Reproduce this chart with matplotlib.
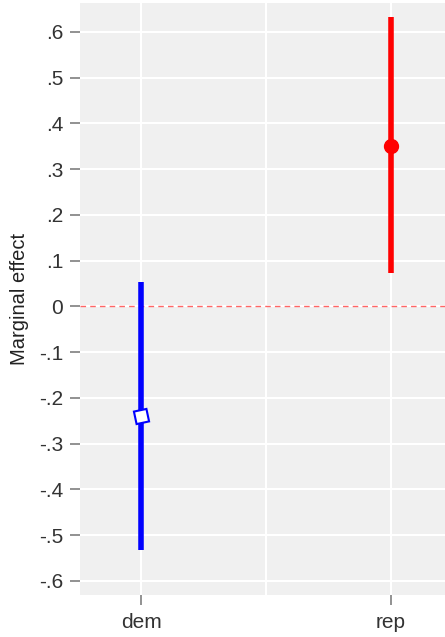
import numpy as np
import matplotlib.pyplot as plt

plt.rcParams['font.family'] = ['Liberation Sans', 'DejaVu Sans']

# data
groups = ['dem', 'rep']
estimate = [-0.239, 0.351]
ci_low = [-0.532, 0.073]
ci_high = [0.053, 0.633]
colors = ['#0000FF', '#FF0000']
yticks = [0.6, 0.5, 0.4, 0.3, 0.2, 0.1, 0.0, -0.1, -0.2, -0.3, -0.4, -0.5, -0.6]


def fmt(v):
    if abs(v) < 1e-9:
        return '0'
    s = f'{v:.1f}'.replace('0.', '.')
    return s


fig = plt.figure(figsize=(4.45, 6.37), dpi=100)
ax = fig.add_axes([80 / 445, 1 - 595 / 637, 1 - 80 / 445, 592 / 637])
ax.set_facecolor('#F0F0F0')
for sp in ax.spines.values():
    sp.set_visible(False)

x = np.arange(1, len(groups) + 1)
ax.set_xlim(0.756, 2.216)
ax.set_ylim(-0.631, 0.663)

# grid
for yt in yticks:
    ax.axhline(yt, color='white', lw=1.5, zorder=0)
for xv in [1, 1.5, 2]:
    ax.axvline(xv, color='white', lw=1.5, zorder=0)

ax.axhline(0, color='#FF6666', lw=1, ls=(0, (4, 3)), zorder=1)

for i in range(len(groups)):
    ax.vlines(x[i], ci_low[i], ci_high[i], color=colors[i], lw=4, zorder=2)

ax.plot(x[0], estimate[0], marker=(4, 0, 57), ms=13, mfc='white', mec=colors[0], mew=1.5, zorder=3)
ax.plot(x[1], estimate[1], marker='o', ms=10, mfc=colors[1], mec=colors[1], zorder=3)

ax.set_xticks(x)
ax.set_xticklabels(groups)
ax.set_yticks(yticks)
ax.set_yticklabels([fmt(v) for v in yticks])
ax.tick_params(axis='both', colors='#7F7F7F', labelcolor='#333333', labelsize=15,
               length=7, width=1.2)
ax.tick_params(axis='x', pad=6)
ax.tick_params(axis='y', pad=5)
ax.set_ylabel('Marginal effect', fontsize=14.5, color='#222222', labelpad=7)

fig.savefig('out.png', dpi=100)
